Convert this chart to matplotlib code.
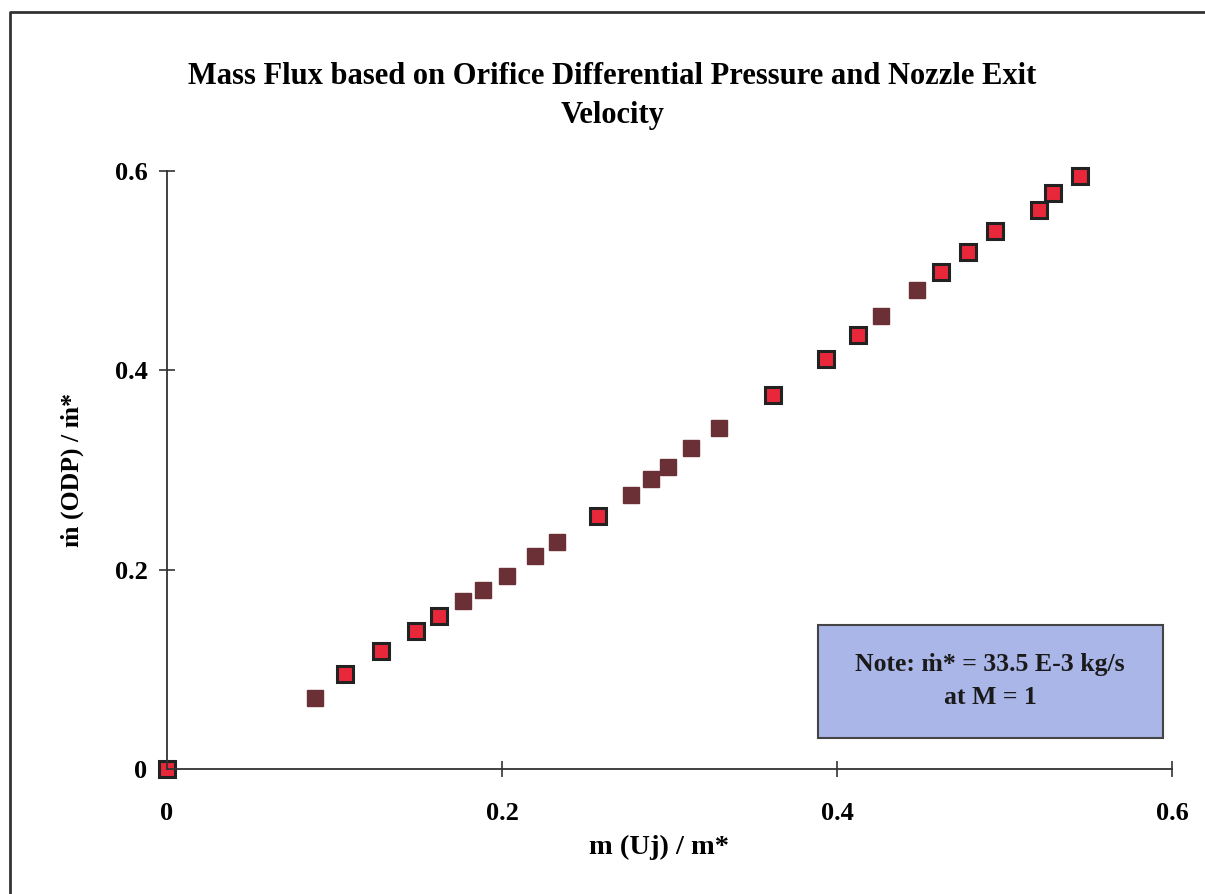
import matplotlib.pyplot as plt
from matplotlib.patches import Rectangle
from matplotlib.lines import Line2D

plt.rcParams['font.family'] = ['Liberation Serif', 'DejaVu Serif']
plt.rcParams['font.weight'] = 'bold'

# red squares with black edge
x_red = [0.0, 0.1063, 0.1278, 0.1487, 0.1624, 0.2573, 0.3618, 0.3934,
         0.4125, 0.4621, 0.4782, 0.4943, 0.5206, 0.5290, 0.5451]
y_red = [0.0, 0.0953, 0.1184, 0.1385, 0.1535, 0.2538, 0.3752, 0.4114,
         0.4354, 0.4987, 0.5187, 0.5398, 0.5609, 0.5779, 0.5950]
# solid brown squares
x_brown = [0.0884, 0.1767, 0.1887, 0.2030, 0.2197, 0.2328, 0.2770, 0.2890,
           0.2991, 0.3128, 0.3296, 0.4263, 0.4478]
y_brown = [0.0712, 0.1686, 0.1796, 0.1936, 0.2137, 0.2278, 0.2749, 0.2910,
           0.3030, 0.3221, 0.3421, 0.4545, 0.4806]

ticks = [0, 0.2, 0.4, 0.6]
tick_labels = ['0', '0.2', '0.4', '0.6']

fig = plt.figure(figsize=(12.05, 8.94), dpi=100)
ax = fig.add_axes([0.1386, 0.1398, 0.834, 0.6689])

ax.plot(x_brown, y_brown, 's', ms=11, color='#6b3035', mec='#6b3035', clip_on=False)
ax.plot(x_red, y_red, 's', ms=11, color='#e8283a', mec='#222222', mew=2.2, clip_on=False)

ax.set_xlim(0, 0.6)
ax.set_ylim(0, 0.6)
ax.set_xticks(ticks)
ax.set_xticklabels(tick_labels)
ax.set_yticks(ticks)
ax.set_yticklabels(tick_labels)
for s in ['top', 'right']:
    ax.spines[s].set_visible(False)
for s in ['left', 'bottom']:
    ax.spines[s].set_linewidth(1.3)
    ax.spines[s].set_color('#333333')
ax.tick_params(direction='inout', length=12, width=1.2, color='#333333',
               labelsize=19)
ax.tick_params(axis='x', pad=18)
ax.tick_params(axis='y', pad=8)

ax.set_xlabel('m (Uj) / m*', fontsize=20.5, fontweight='bold')
ax.xaxis.set_label_coords(0.4896, -0.110)
ax.set_ylabel('ṁ (ODP) / ṁ*', fontsize=18.5, fontweight='bold')
ax.yaxis.set_label_coords(-0.083, 0.5)

fig.text(0.508, 1 - 77 / 894, 'Mass Flux based on Orifice Differential Pressure and Nozzle Exit',
         ha='center', va='center', fontsize=22, fontweight='bold')
fig.text(0.508, 1 - 115 / 894, 'Velocity', ha='center', va='center', fontsize=22,
         fontweight='bold')

# note box
fig.patches.append(Rectangle((818 / 1205, 1 - 738 / 894), 345 / 1205, 113 / 894,
                             transform=fig.transFigure, facecolor='#aab6e8',
                             edgecolor='#444444', lw=1.5))
fig.text(990 / 1205, 1 - 664 / 894, 'Note: ṁ* = 33.5 E-3 kg/s',
         ha='center', va='center', fontsize=18.5, fontweight='bold', color='#1a1a1a')
fig.text(990 / 1205, 1 - 698 / 894, 'at M = 1',
         ha='center', va='center', fontsize=18.5, fontweight='bold', color='#1a1a1a')

# outer frame (top and left edges visible)
fig.lines.append(Line2D([10 / 1205, 10 / 1205, 1], [0, 1 - 12 / 894, 1 - 12 / 894],
                        transform=fig.transFigure, color='#333333', lw=2))

fig.savefig('out.png', dpi=100)
